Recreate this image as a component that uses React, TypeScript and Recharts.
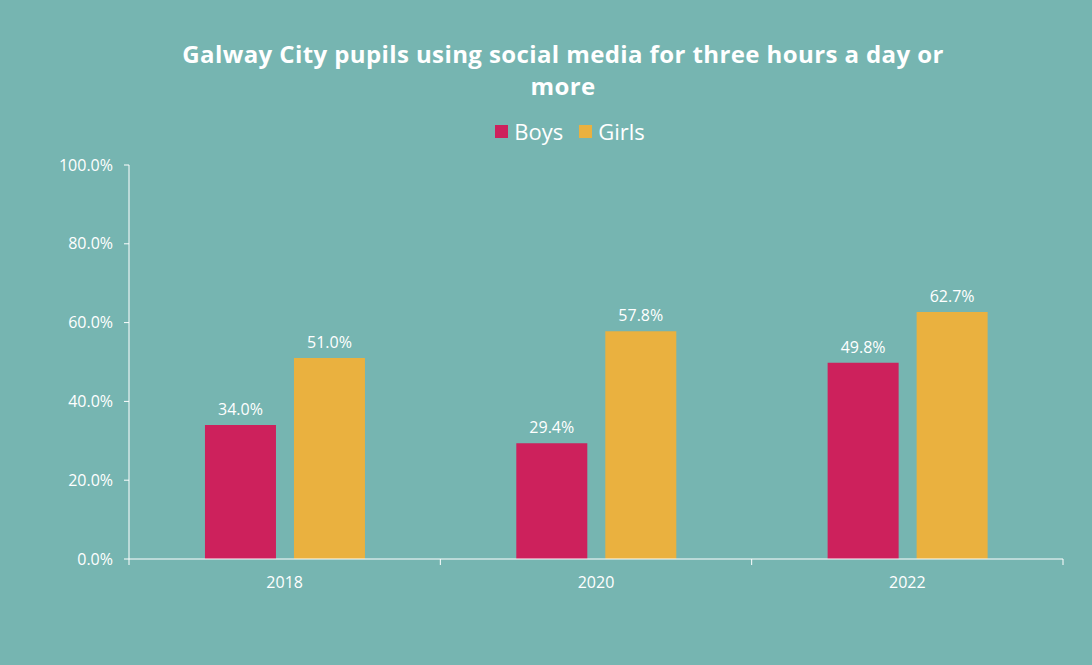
import React from "react";
import { BarChart, Bar, XAxis, YAxis, LabelList } from "recharts";

// Data
const years = ["2018", "2020", "2022"];
const boysPct = [34.0, 29.4, 49.8];
const girlsPct = [51.0, 57.8, 62.7];
const yTicks = [0, 20, 40, 60, 80, 100];

const seriesColors = { boys: "#CD215C", girls: "#EAB13F" };
const bg = "#76B5B1";
const font = "'Open Sans', 'Noto Sans', sans-serif";

const W = 1092;
const H = 665;
const M = { top: 165, right: 29, bottom: 0, left: 0 };
const Y_AXIS_W = 129;
const X_AXIS_H = 106;
const band = (W - Y_AXIS_W - M.right) / years.length;
const axisY = H - X_AXIS_H;

const chartData = years.map((year, i) => ({
  year,
  boys: boysPct[i],
  girls: girlsPct[i],
}));

const pct = (v: number) => `${Number(v).toFixed(1)}%`;

// x ticks sit on category boundaries, label in the middle
const XTick = (props: any) => {
  const { x, payload, index } = props;
  const left = x - band / 2;
  return (
    <g>
      <line x1={left} x2={left} y1={axisY} y2={axisY + 6} stroke="#fff" strokeWidth={1} />
      {index === years.length - 1 && (
        <line x1={x + band / 2} x2={x + band / 2} y1={axisY} y2={axisY + 6} stroke="#fff" strokeWidth={1} />
      )}
      <text x={x} y={axisY + 29} textAnchor="middle" fill="#fff" fontSize={16} fontFamily={font}>
        {payload.value}
      </text>
    </g>
  );
};

export default function App() {
  return (
    <div style={{ position: "fixed", left: 0, top: 0, width: W, height: H, background: bg, fontFamily: font }}>
      {/* Title */}
      <div
        style={{
          position: "absolute",
          top: 38,
          left: 113,
          width: 900,
          textAlign: "center",
          color: "#fff",
          fontWeight: 700,
          fontSize: 24,
          letterSpacing: 0.4,
          lineHeight: "32px",
        }}
      >
        Galway City pupils using social media for three hours a day or
        <br />
        more
      </div>

      {/* Legend */}
      <div
        style={{
          position: "absolute",
          top: 116,
          left: 0,
          width: 1140,
          display: "flex",
          justifyContent: "center",
          alignItems: "center",
          gap: 16,
          color: "#fff",
          fontSize: 22,
        }}
      >
        <span style={{ display: "flex", alignItems: "center", gap: 6 }}>
          <span style={{ width: 13, height: 13, background: seriesColors.boys, display: "inline-block" }} />
          Boys
        </span>
        <span style={{ display: "flex", alignItems: "center", gap: 6 }}>
          <span style={{ width: 13, height: 13, background: seriesColors.girls, display: "inline-block" }} />
          Girls
        </span>
      </div>

      <div style={{ position: "absolute", left: 0, top: 0 }}>
        <BarChart
          width={W}
          height={H}
          data={chartData}
          margin={M}
          barCategoryGap="24.4%"
          barGap={18}
        >
          <XAxis
            dataKey="year"
            height={X_AXIS_H}
            axisLine={{ stroke: "#fff", strokeWidth: 1 }}
            tickLine={false}
            tick={<XTick />}
            interval={0}
          />
          <YAxis
            width={Y_AXIS_W}
            domain={[0, 100]}
            ticks={yTicks}
            interval={0}
            tickFormatter={pct}
            axisLine={{ stroke: "#fff", strokeWidth: 1 }}
            tickLine={{ stroke: "#fff" }}
            tickSize={5}
            tickMargin={11}
            tick={{ fill: "#fff", fontSize: 16, fontFamily: font }}
          />
          <Bar dataKey="boys" fill={seriesColors.boys} isAnimationActive={false}>
            <LabelList dataKey="boys" position="top" offset={10} formatter={pct} fill="#fff" fontSize={16} fontFamily={font} />
          </Bar>
          <Bar dataKey="girls" fill={seriesColors.girls} isAnimationActive={false}>
            <LabelList dataKey="girls" position="top" offset={10} formatter={pct} fill="#fff" fontSize={16} fontFamily={font} />
          </Bar>
        </BarChart>
      </div>
    </div>
  );
}
